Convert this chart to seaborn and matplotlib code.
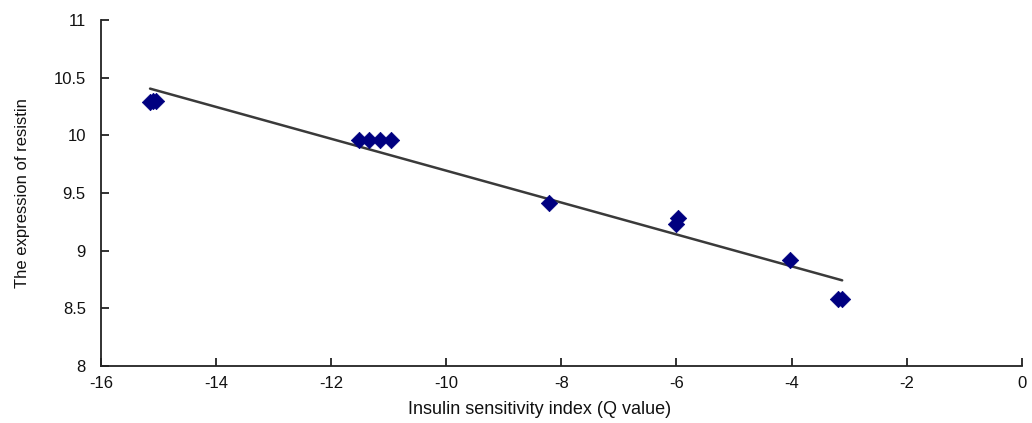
import matplotlib
matplotlib.use("Agg")
import matplotlib.pyplot as plt
import seaborn as sns
import pandas as pd
import numpy as np

# Data
q_value = [-15.15, -15.10, -15.05,
           -11.52, -11.34, -11.15, -10.97,
           -8.21,
           -6.00, -5.97,
           -4.02,
           -3.20, -3.12]
resistin = [10.29, 10.30, 10.30,
            9.96, 9.96, 9.96, 9.96,
            9.41,
            9.23, 9.28,
            8.92,
            8.58, 8.58]
x_ticks = [-16, -14, -12, -10, -8, -6, -4, -2, 0]
y_ticks = [8, 8.5, 9, 9.5, 10, 10.5, 11]
y_tick_labels = ["8", "8.5", "9", "9.5", "10", "10.5", "11"]

df = pd.DataFrame({"q": q_value, "r": resistin})

sns.set_style("white")
plt.rcParams["font.family"] = ["Liberation Sans", "DejaVu Sans"]

fig = plt.figure(figsize=(10.32, 4.23), dpi=100)
ax = fig.add_axes([0.098, 0.135, 0.892, 0.818])

sns.regplot(data=df, x="q", y="r", ax=ax, ci=None, truncate=True,
            marker="D",
            scatter_kws=dict(color="#000080", s=70, alpha=1, edgecolor="#000080",
                             linewidths=0.5, zorder=3),
            line_kws=dict(color="#3a3a3a", lw=1.8, zorder=2))

ax.set_xlim(-16, 0)
ax.set_ylim(8, 11)
ax.set_xticks(x_ticks)
ax.set_xticklabels([str(t) for t in x_ticks])
ax.set_yticks(y_ticks)
ax.set_yticklabels(y_tick_labels)

for s in ["top", "right"]:
    ax.spines[s].set_visible(False)
for s in ["left", "bottom"]:
    ax.spines[s].set_color("#222222")
    ax.spines[s].set_linewidth(1.3)

ax.tick_params(axis="both", direction="in", length=6, width=1.3, color="#222222",
               labelsize=12, labelcolor="#111111", bottom=True, left=True)
ax.tick_params(axis="y", pad=11)
ax.tick_params(axis="x", pad=7)

ax.set_xlabel("Insulin sensitivity index (Q value)", fontsize=13, color="#111111")
ax.set_ylabel("The expression of resistin", fontsize=12, color="#111111")
ax.xaxis.set_label_coords(0.476, -0.102)
ax.yaxis.set_label_coords(-0.077, 0.5)

fig.savefig("out.png", dpi=100)
